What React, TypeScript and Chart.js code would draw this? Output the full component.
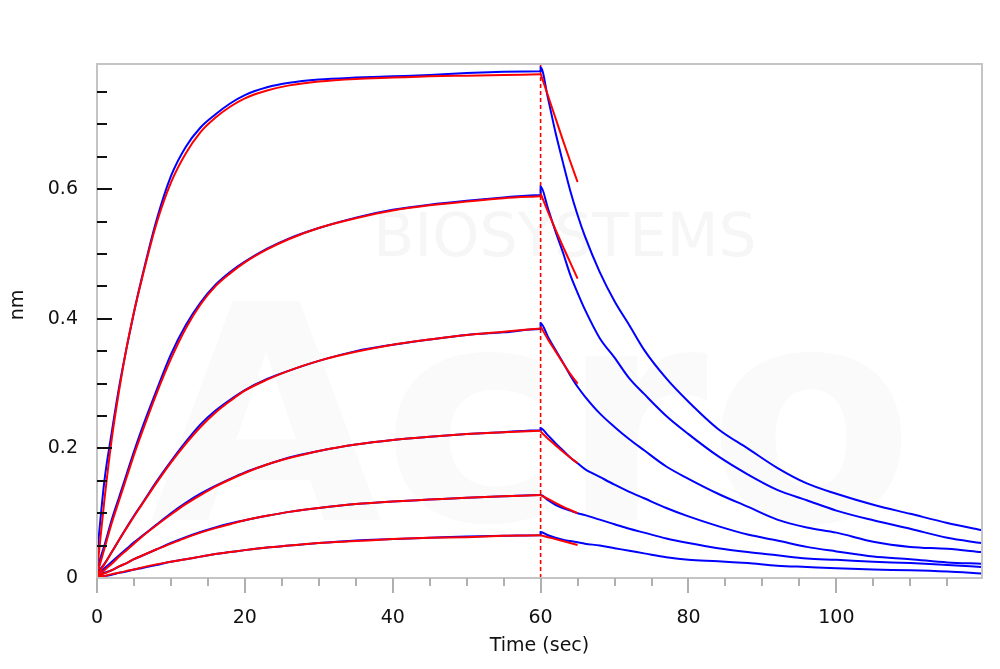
import React, { useEffect, useRef } from "react";
import { Chart, registerables } from "chart.js";

Chart.register(...registerables);

// ---- time axes (sec) ----
const assocTime = [0, 1, 2, 3, 4, 5, 6, 8, 10, 12, 14, 16, 18, 20, 23, 26, 30, 35, 40, 45, 50, 55, 60];
const dissocTime = [60, 61, 62, 63, 64, 65, 66, 68, 70, 72, 74, 77, 80, 84, 88, 92, 96, 100, 105, 110, 115, 119.6];
const fitDissocTime = [60, 61, 62, 63, 64, 65];
const phaseSwitchTime = 60;
const xTickValues = [0, 20, 40, 60, 80, 100];
const xTickLabels = ["0", "20", "40", "60", "80", "100"];
const yTickValues = [0, 0.2, 0.4, 0.6];
const yTickLabels = ["0", "0.2", "0.4", "0.6"];

// ---- measured (blue) association, nm ----
const measAssoc1 = [0.035, 0.15, 0.225, 0.295, 0.355, 0.41, 0.46, 0.55, 0.62, 0.665, 0.695, 0.715, 0.732, 0.745, 0.757, 0.764, 0.769, 0.772, 0.774, 0.776, 0.779, 0.781, 0.782];
const measAssoc2 = [0.015, 0.05, 0.09, 0.125, 0.16, 0.195, 0.228, 0.288, 0.345, 0.39, 0.425, 0.452, 0.472, 0.488, 0.508, 0.524, 0.54, 0.556, 0.568, 0.576, 0.582, 0.587, 0.591];
const measAssoc3 = [0.008, 0.022, 0.04, 0.059, 0.078, 0.096, 0.113, 0.148, 0.18, 0.21, 0.237, 0.258, 0.275, 0.29, 0.307, 0.32, 0.335, 0.35, 0.36, 0.368, 0.375, 0.379, 0.384];
const measAssoc4 = [0.006, 0.015, 0.025, 0.035, 0.045, 0.055, 0.064, 0.082, 0.1, 0.116, 0.13, 0.142, 0.153, 0.163, 0.175, 0.186, 0.196, 0.206, 0.213, 0.218, 0.222, 0.225, 0.228];
const measAssoc5 = [0.004, 0.008, 0.012, 0.018, 0.023, 0.029, 0.034, 0.044, 0.054, 0.063, 0.071, 0.078, 0.084, 0.089, 0.096, 0.102, 0.108, 0.114, 0.118, 0.121, 0.124, 0.126, 0.128];
const measAssoc6 = [0.002, 0.003, 0.005, 0.008, 0.01, 0.013, 0.015, 0.02, 0.025, 0.029, 0.033, 0.037, 0.04, 0.043, 0.047, 0.05, 0.054, 0.058, 0.06, 0.062, 0.064, 0.065, 0.066];

// ---- measured (blue) dissociation, nm ----
const measDissoc1 = [0.788, 0.74, 0.688, 0.642, 0.598, 0.56, 0.527, 0.472, 0.427, 0.39, 0.352, 0.308, 0.272, 0.23, 0.2, 0.17, 0.146, 0.13, 0.113, 0.099, 0.085, 0.074];
const measDissoc2 = [0.604, 0.57, 0.535, 0.503, 0.468, 0.44, 0.414, 0.37, 0.34, 0.308, 0.284, 0.25, 0.222, 0.188, 0.16, 0.136, 0.12, 0.104, 0.089, 0.076, 0.062, 0.054];
const measDissoc3 = [0.393, 0.372, 0.352, 0.333, 0.313, 0.295, 0.28, 0.254, 0.233, 0.214, 0.197, 0.172, 0.153, 0.13, 0.11, 0.09, 0.078, 0.07, 0.056, 0.048, 0.045, 0.04];
const measDissoc4 = [0.231, 0.22, 0.208, 0.197, 0.186, 0.177, 0.168, 0.156, 0.144, 0.133, 0.123, 0.108, 0.095, 0.08, 0.067, 0.058, 0.048, 0.041, 0.033, 0.029, 0.024, 0.022];
const measDissoc5 = [0.128, 0.12, 0.113, 0.108, 0.104, 0.1, 0.097, 0.09, 0.083, 0.076, 0.07, 0.061, 0.054, 0.046, 0.04, 0.035, 0.03, 0.028, 0.025, 0.023, 0.02, 0.017];
const measDissoc6 = [0.071, 0.066, 0.062, 0.059, 0.057, 0.055, 0.053, 0.05, 0.046, 0.042, 0.038, 0.032, 0.028, 0.026, 0.023, 0.019, 0.017, 0.015, 0.013, 0.012, 0.01, 0.007];

// ---- fitted (red) association, nm ----
const fitAssoc1 = [0.01, 0.12, 0.215, 0.29, 0.355, 0.41, 0.458, 0.545, 0.61, 0.655, 0.688, 0.71, 0.727, 0.74, 0.752, 0.76, 0.766, 0.77, 0.772, 0.774, 0.775, 0.776, 0.777];
const fitAssoc2 = [0.005, 0.045, 0.085, 0.12, 0.155, 0.19, 0.222, 0.283, 0.338, 0.385, 0.422, 0.45, 0.47, 0.487, 0.507, 0.523, 0.54, 0.555, 0.567, 0.575, 0.581, 0.586, 0.589];
const fitAssoc3 = [0.003, 0.021, 0.04, 0.059, 0.077, 0.095, 0.112, 0.146, 0.178, 0.207, 0.233, 0.255, 0.273, 0.289, 0.306, 0.32, 0.335, 0.349, 0.36, 0.368, 0.375, 0.38, 0.385];
const fitAssoc4 = [0.002, 0.012, 0.022, 0.033, 0.043, 0.053, 0.063, 0.081, 0.098, 0.114, 0.128, 0.141, 0.152, 0.162, 0.175, 0.185, 0.196, 0.206, 0.213, 0.218, 0.222, 0.225, 0.227];
const fitAssoc5 = [0.001, 0.007, 0.012, 0.018, 0.023, 0.029, 0.034, 0.044, 0.053, 0.062, 0.07, 0.077, 0.083, 0.089, 0.096, 0.102, 0.108, 0.114, 0.118, 0.121, 0.124, 0.126, 0.128];
const fitAssoc6 = [0.0, 0.003, 0.006, 0.008, 0.011, 0.013, 0.016, 0.021, 0.025, 0.029, 0.033, 0.037, 0.04, 0.043, 0.047, 0.05, 0.054, 0.057, 0.06, 0.062, 0.063, 0.065, 0.066];

// ---- fitted (red) early dissociation, nm ----
const fitDissoc1 = [0.778, 0.744, 0.71, 0.676, 0.643, 0.611];
const fitDissoc2 = [0.593, 0.565, 0.538, 0.512, 0.487, 0.462];
const fitDissoc3 = [0.388, 0.368, 0.35, 0.332, 0.315, 0.3];
const fitDissoc4 = [0.226, 0.215, 0.205, 0.195, 0.186, 0.177];
const fitDissoc5 = [0.128, 0.122, 0.116, 0.11, 0.105, 0.1];
const fitDissoc6 = [0.066, 0.063, 0.06, 0.057, 0.054, 0.051];

const measAssoc = [measAssoc1, measAssoc2, measAssoc3, measAssoc4, measAssoc5, measAssoc6];
const measDissoc = [measDissoc1, measDissoc2, measDissoc3, measDissoc4, measDissoc5, measDissoc6];
const fitAssoc = [fitAssoc1, fitAssoc2, fitAssoc3, fitAssoc4, fitAssoc5, fitAssoc6];
const fitDissoc = [fitDissoc1, fitDissoc2, fitDissoc3, fitDissoc4, fitDissoc5, fitDissoc6];

const X_MAX = 119.7;
const Y_MAX = 0.793;
const FONT = "'DejaVu Sans', sans-serif";

const toPts = (xs: number[], ys: number[]) => xs.map((x, i) => ({ x, y: ys[i] }));

const decorPlugin = {
  id: "decor",
  beforeDatasetsDraw(chart: any) {
    const { ctx, chartArea } = chart;
    ctx.save();
    ctx.beginPath();
    ctx.rect(chartArea.left, chartArea.top, chartArea.right - chartArea.left, chartArea.bottom - chartArea.top);
    ctx.clip();
    ctx.fillStyle = "#f6f6f6";
    ctx.font = `60px ${FONT}`;
    ctx.textAlign = "center";
    ctx.textBaseline = "middle";
    ctx.fillText("BIOSYSTEMS", 565, 240);
    ctx.fillStyle = "#fafafa";
    ctx.font = `bold 300px ${FONT}`;
    ctx.textAlign = "left";
    ctx.textBaseline = "alphabetic";
    ctx.fillText("Acro", 150, 520);
    ctx.restore();
  },
  afterDatasetsDraw(chart: any) {
    const { ctx, chartArea, scales } = chart;
    const xs = scales.x;
    const ys = scales.y;
    ctx.save();
    // frame
    ctx.strokeStyle = "#c4c4c4";
    ctx.lineWidth = 2;
    ctx.strokeRect(chartArea.left, chartArea.top, chartArea.right - chartArea.left, chartArea.bottom - chartArea.top);
    // y tick marks (inside)
    ctx.strokeStyle = "#111";
    ctx.lineWidth = 2;
    for (let i = 1; i * 0.05 < Y_MAX; i++) {
      const v = i * 0.05;
      const major = i % 4 === 0;
      const py = Math.round(ys.getPixelForValue(v));
      ctx.beginPath();
      ctx.moveTo(chartArea.left, py);
      ctx.lineTo(chartArea.left + (major ? 15 : 10), py);
      ctx.stroke();
    }
    // x tick marks (outside)
    ctx.strokeStyle = "#b0b0b0";
    for (let i = 0; i * 5 < X_MAX; i++) {
      const v = i * 5;
      const major = i % 4 === 0;
      const px = Math.round(xs.getPixelForValue(v));
      ctx.beginPath();
      ctx.moveTo(px, chartArea.bottom);
      ctx.lineTo(px, chartArea.bottom + (major ? 15 : 8));
      ctx.stroke();
    }
    // axis titles
    ctx.fillStyle = "#111";
    ctx.font = `19px ${FONT}`;
    ctx.textAlign = "center";
    ctx.textBaseline = "middle";
    ctx.fillText("Time (sec)", (chartArea.left + chartArea.right) / 2, 646);
    ctx.translate(18, 305);
    ctx.rotate(-Math.PI / 2);
    ctx.fillText("nm", 0, 0);
    ctx.restore();
  },
};

export default function App() {
  const ref = useRef<HTMLCanvasElement | null>(null);

  useEffect(() => {
    if (!ref.current) return;
    const datasets: any[] = [];
    for (let i = 0; i < 6; i++) {
      datasets.push({
        data: toPts(assocTime, fitAssoc[i]),
        borderColor: "#ff0000",
        borderWidth: 2,
        pointRadius: 0,
        cubicInterpolationMode: "monotone",
        order: 0,
      });
      datasets.push({
        data: toPts(fitDissocTime, fitDissoc[i]),
        borderColor: "#ff0000",
        borderWidth: 2,
        pointRadius: 0,
        cubicInterpolationMode: "monotone",
        order: 0,
      });
      datasets.push({
        data: [...toPts(assocTime, measAssoc[i]), ...toPts(dissocTime, measDissoc[i])],
        borderColor: "#0000ff",
        borderWidth: 2,
        pointRadius: 0,
        cubicInterpolationMode: "monotone",
        order: 1,
      });
    }
    datasets.push({
      data: [
        { x: phaseSwitchTime, y: 0 },
        { x: phaseSwitchTime, y: Y_MAX },
      ],
      borderColor: "#ff0000",
      borderWidth: 1.6,
      borderDash: [4, 3],
      pointRadius: 0,
      order: 2,
    });

    const chart = new Chart(ref.current, {
      type: "line",
      data: { datasets },
      options: {
        animation: false,
        responsive: false,
        maintainAspectRatio: false,
        layout: { padding: { left: 0, top: 64, right: 18, bottom: 0 } },
        plugins: { legend: { display: false }, tooltip: { enabled: false } },
        scales: {
          x: {
            type: "linear",
            min: 0,
            max: X_MAX,
            grid: { display: false, drawTicks: false },
            border: { display: false },
            afterBuildTicks: (s: any) => {
              s.ticks = xTickValues.map((v) => ({ value: v }));
            },
            ticks: {
              padding: 29,
              color: "#111",
              font: { family: FONT, size: 19 },
              maxRotation: 0,
              autoSkip: false,
              callback: (v: any, i: number) => xTickLabels[i],
            },
            afterFit: (s: any) => {
              s.height = 91;
              s.paddingRight = 0;
              s.paddingLeft = 0;
            },
          },
          y: {
            type: "linear",
            min: 0,
            max: Y_MAX,
            grid: { display: false, drawTicks: false },
            border: { display: false },
            afterBuildTicks: (s: any) => {
              s.ticks = yTickValues.map((v) => ({ value: v }));
            },
            ticks: {
              padding: 19,
              color: "#111",
              font: { family: FONT, size: 19 },
              autoSkip: false,
              callback: (v: any, i: number) => yTickLabels[i],
            },
            afterFit: (s: any) => {
              s.width = 97;
              s.paddingTop = 0;
              s.paddingBottom = 0;
            },
          },
        },
      },
      plugins: [decorPlugin],
    });
    return () => chart.destroy();
  }, []);

  return (
    <div style={{ position: "absolute", left: 0, top: 0, width: 1000, height: 669, background: "#fff" }}>
      <canvas ref={ref} width={1000} height={669} style={{ display: "block", width: 1000, height: 669 }} />
    </div>
  );
}
